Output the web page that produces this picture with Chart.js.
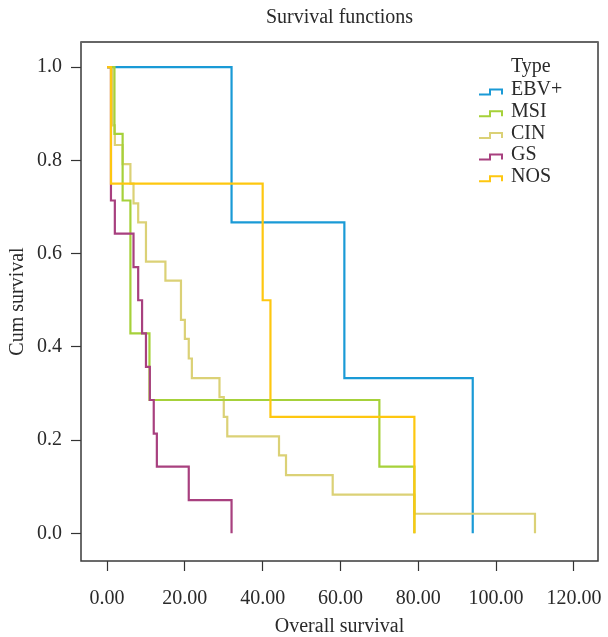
<!DOCTYPE html>
<html>
<head>
<meta charset="utf-8">
<script src="https://cdn.jsdelivr.net/npm/chart.js@4"></script>
<style>
  html, body { margin: 0; padding: 0; background: #fff; }
  #wrap { width: 608px; height: 637px; }
</style>
</head>
<body>
<div id="wrap"><canvas id="km" width="608" height="637"></canvas></div>
<script>
// Kaplan-Meier curves (time in months, cum survival)
const seriesNames = ['EBV+', 'MSI', 'CIN', 'GS', 'NOS'];
const ebvTime = [0, 32, 61, 94];
const ebvSurv = [1, 0.667, 0.333, 0];
const msiTime = [0, 1.9, 4, 6, 10.9, 70, 79];
const msiSurv = [1, 0.857, 0.714, 0.429, 0.286, 0.143, 0];
const cinTime = [0, 1.4, 2, 4, 6, 6.8, 8, 10, 15, 19, 20, 21, 21.8, 28.9, 30, 30.9, 44.2, 46, 58, 79, 110];
const cinSurv = [1, 0.875, 0.833, 0.792, 0.75, 0.708, 0.667, 0.583, 0.542, 0.458, 0.417, 0.375, 0.333, 0.292, 0.25, 0.208, 0.167, 0.125, 0.083, 0.042, 0];
const gsTime = [0, 1, 2, 6.8, 8, 9, 10, 11, 12, 12.8, 21, 32];
const gsSurv = [1, 0.714, 0.643, 0.571, 0.5, 0.429, 0.357, 0.286, 0.214, 0.143, 0.071, 0];
const nosTime = [0, 1, 40, 42, 79];
const nosSurv = [1, 0.75, 0.5, 0.25, 0];

const xTicks = [0, 20, 40, 60, 80, 100, 120];
const yTicks = [0, 0.2, 0.4, 0.6, 0.8, 1.0];

const colors = ['#1a9ad6', '#a6d13a', '#dbd176', '#a8407f', '#fec710'];
const serif = '"Liberation Serif", "DejaVu Serif", serif';
const ink = '#2a2a2a';

const toPts = (t, s) => t.map((v, i) => ({ x: v, y: s[i] }));
const allTimes = [ebvTime, msiTime, cinTime, gsTime, nosTime];
const allSurv = [ebvSurv, msiSurv, cinSurv, gsSurv, nosSurv];
// lower order is painted on top (NOS on top, EBV+ underneath)
const drawOrder = [5, 3, 4, 2, 1];

const datasets = seriesNames.map((name, i) => ({
  label: name,
  data: toPts(allTimes[i], allSurv[i]),
  borderColor: colors[i],
  borderWidth: 2.2,
  stepped: 'before',
  pointRadius: 0,
  fill: false,
  order: drawOrder[i]
}));

// frame, title and the little step-shaped legend
const decor = {
  id: 'decor',
  afterDraw(chart) {
    const { ctx, chartArea: a } = chart;
    ctx.save();
    ctx.strokeStyle = '#3a3a3a';
    ctx.lineWidth = 1.5;
    ctx.strokeRect(a.left, a.top, a.right - a.left, a.bottom - a.top);
    ctx.strokeStyle = '#666';
    ctx.lineWidth = 2;
    ctx.beginPath();
    ctx.moveTo(a.left, a.top);
    ctx.lineTo(a.right, a.top);
    ctx.stroke();

    ctx.fillStyle = ink;
    ctx.font = '20px ' + serif;
    ctx.textAlign = 'center';
    ctx.textBaseline = 'middle';
    ctx.fillText('Survival functions', (a.left + a.right) / 2, 18);

    ctx.textAlign = 'left';
    ctx.fillText('Type', 511, 67);
    seriesNames.forEach((name, i) => {
      const y = 90 + i * 21.7;
      ctx.fillStyle = ink;
      ctx.fillText(name, 511, y);
      ctx.strokeStyle = colors[i];
      ctx.lineWidth = 2;
      ctx.beginPath();
      ctx.moveTo(479, y + 4.5);
      ctx.lineTo(490, y + 4.5);
      ctx.lineTo(490, y - 0.5);
      ctx.lineTo(502, y - 0.5);
      ctx.lineTo(502, y + 4.5);
      ctx.stroke();
    });
    ctx.restore();
  }
};

new Chart(document.getElementById('km'), {
  type: 'line',
  data: { datasets },
  plugins: [decor],
  options: {
    responsive: false,
    animation: false,
    layout: { padding: { top: 42, right: 10, left: 0, bottom: 0 } },
    plugins: { legend: { display: false }, tooltip: { enabled: false } },
    scales: {
      x: {
        type: 'linear',
        min: -6.7,
        max: 126.2,
        afterBuildTicks: s => { s.ticks = xTicks.map(v => ({ value: v })); },
        afterFit: s => { s.height = 76; s.paddingLeft = 0; s.paddingRight = 0; },
        grid: { drawOnChartArea: false, tickLength: 10, tickColor: '#333', tickWidth: 1.2 },
        border: { display: false },
        ticks: {
          padding: 16,
          color: ink,
          font: { family: serif, size: 20 },
          maxRotation: 0,
          callback: v => Number(v).toFixed(2)
        },
        title: {
          display: true,
          text: 'Overall survival',
          color: ink,
          font: { family: serif, size: 20, lineHeight: 1 },
          padding: { top: 0, bottom: 0 }
        }
      },
      y: {
        min: -0.0594,
        max: 1.054,
        afterBuildTicks: s => { s.ticks = yTicks.map(v => ({ value: v })); },
        afterFit: s => { s.width = 81; s.paddingTop = 0; s.paddingBottom = 0; },
        grid: { drawOnChartArea: false, tickLength: 10, tickColor: '#333', tickWidth: 1.2 },
        border: { display: false },
        ticks: {
          padding: 9,
          color: ink,
          font: { family: serif, size: 20 },
          callback: v => Number(v).toFixed(1)
        },
        title: {
          display: true,
          text: 'Cum survival',
          color: ink,
          font: { family: serif, size: 20, lineHeight: 1 },
          padding: { top: 8, bottom: 0 }
        }
      }
    }
  }
});
</script>
</body>
</html>
